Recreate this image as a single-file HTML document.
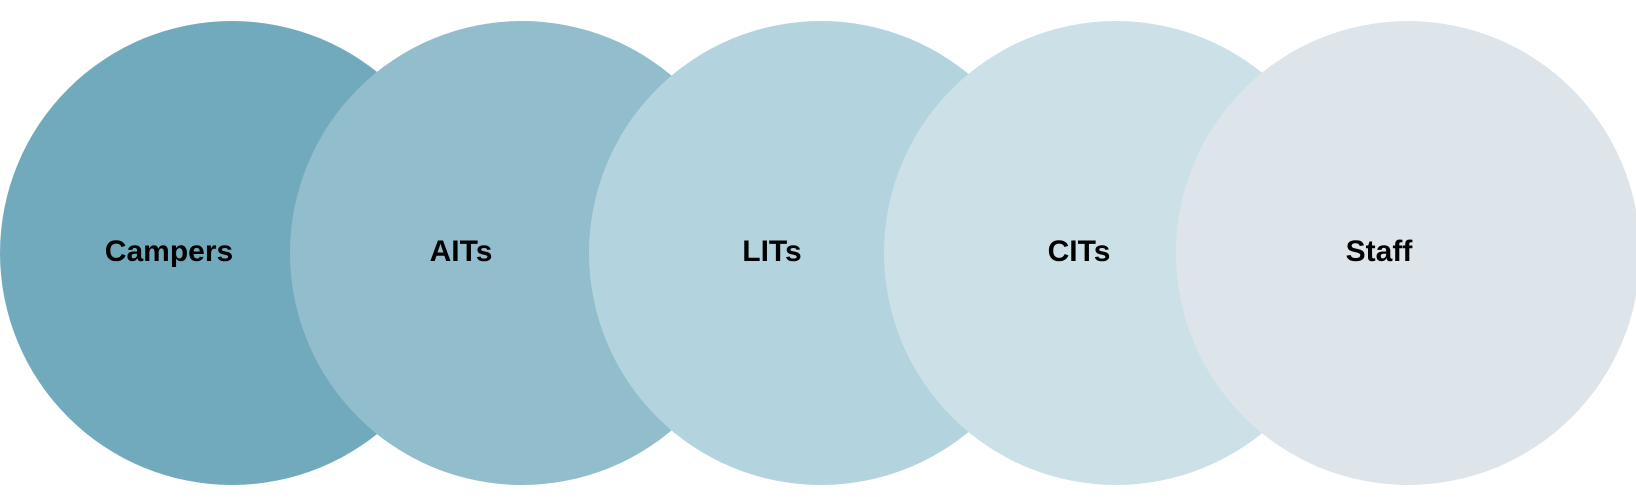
<!DOCTYPE html>
<html><head><style>
html,body{margin:0;padding:0;background:#fff;}
body{width:1636px;height:503px;position:relative;overflow:hidden;}
.c{position:absolute;top:21px;width:464px;height:464px;border-radius:50%;}
.t{position:absolute;top:231px;width:300px;text-align:center;font-family:"Liberation Sans",sans-serif;font-weight:bold;font-size:30px;color:#000;line-height:42px;}
</style></head><body>
<div class="c" style="left:0;background:#72aabd"></div>
<div class="c" style="left:290px;background:#91bdcc"></div>
<div class="c" style="left:589px;background:#b3d4df"></div>
<div class="c" style="left:884px;background:#cbe1e7"></div>
<div class="c" style="left:1176px;background:#dde5eb"></div>
<div class="t" style="left:19px">Campers</div>
<div class="t" style="left:311px">AITs</div>
<div class="t" style="left:622px">LITs</div>
<div class="t" style="left:929px">CITs</div>
<div class="t" style="left:1229px">Staff</div>
</body></html>
